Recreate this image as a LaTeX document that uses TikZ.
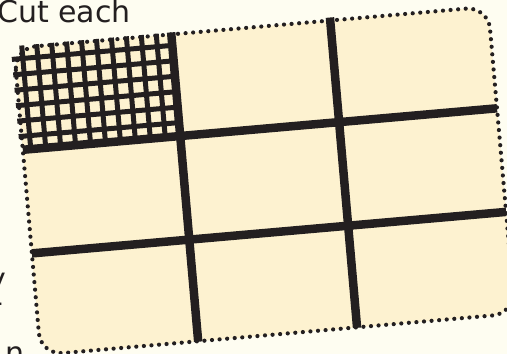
\documentclass[tikz,border=0pt]{standalone}
\usepackage{fontspec}
\setmainfont{DejaVu Sans}
\definecolor{bg}{HTML}{FEFDF1}
\definecolor{board}{HTML}{FDF2D0}
\definecolor{ink}{HTML}{231F20}
\tikzset{
  thickcut/.style={draw=ink, line width=8.5pt},
  finecut/.style={draw=ink, line width=5pt},
  dotborder/.style={draw=ink, line width=4.2pt, line cap=round, dash pattern=on 0pt off 7.6pt, rounded corners=22pt},
  boardfill/.style={fill=board, rounded corners=22pt},
  lbl/.style={text=ink, font=\fontsize{30}{36}\selectfont, inner sep=0pt},
}
\begin{document}
\begin{tikzpicture}[x=1pt,y=1pt]
\useasboundingbox (0,-354) rectangle (507,0);
\clip (0,-354) rectangle (507,0);
\fill[bg] (0,-354) rectangle (507,0);
\node[lbl, anchor=base west] (cut) at (-3,-22.5) {Cut each};
\node[lbl, anchor=base east] (fy) at (6.5,-289) {y};
\node[lbl, anchor=base east] (fh) at (4,-312) {-};
\node[lbl, anchor=base west] (fn) at (5,-363) {n};
\begin{scope}[shift={(16pt,-49pt)}, rotate=5, x=1pt, y=-1pt]
  \path[boardfill] (-2,-1) rectangle (474,307);
  \path[dotborder] (-2,-1) rectangle (474,307);
  % fine grid in the first piece
  \foreach \u in {6,21,...,141} \draw[finecut] (\u,-3) -- (\u,101);
  \foreach \w in {10,25.5,...,87.5} \draw[finecut] (-5,\w) -- (156,\w);
  % main cuts
  \draw[thickcut] (156,-3) -- (156,307.5);
  \draw[thickcut] (315.5,-4) -- (315.5,307.5);
  \draw[thickcut] (-2,101) -- (474,101);
  \draw[thickcut] (-2,205) -- (474,205);
\end{scope}
\end{tikzpicture}
\end{document}
